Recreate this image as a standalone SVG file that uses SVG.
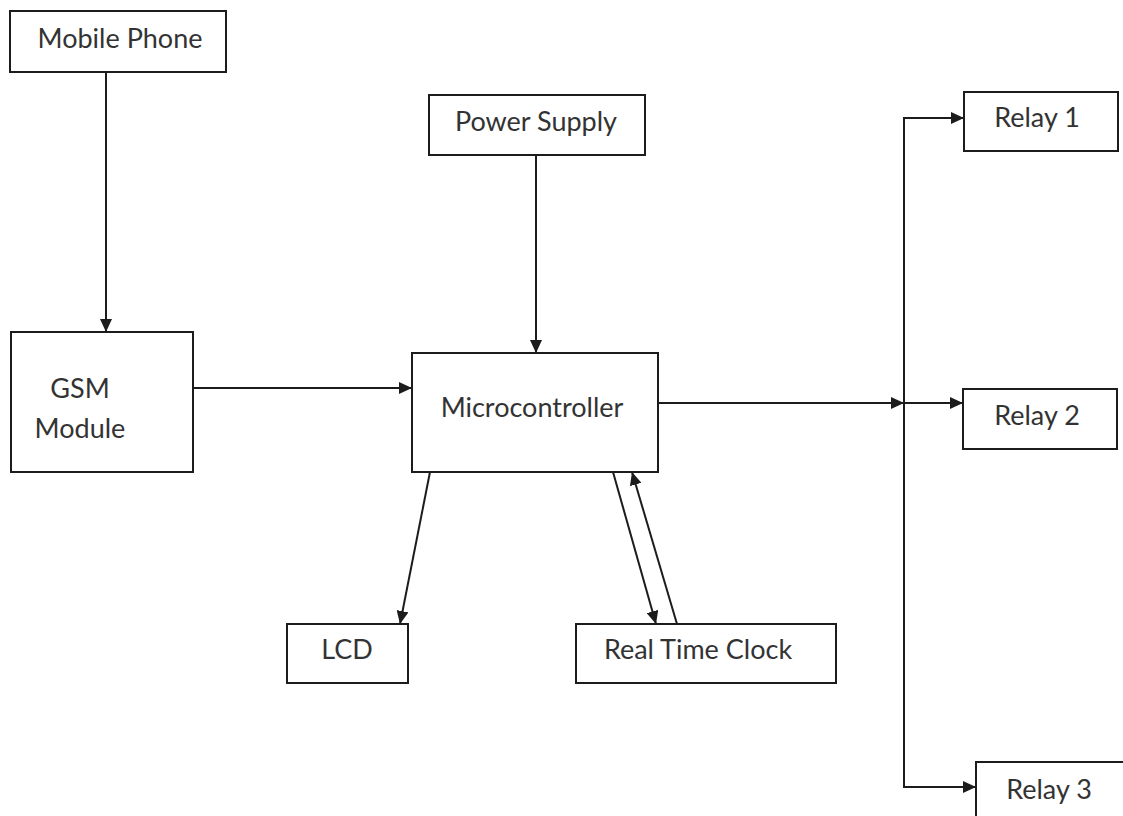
<svg xmlns="http://www.w3.org/2000/svg" width="1123" height="816" viewBox="0 0 1123 816">
  <style>
    .box { fill: #ffffff; stroke: #1c1c1c; stroke-width: 2; }
    .lbl { font-family: "Lato", "Liberation Sans", sans-serif; font-size: 27px; fill: #333333; text-anchor: middle; }
    .wire { fill: none; stroke: #1c1c1c; stroke-width: 2; }
    .arrow { marker-end: url(#head); }
  </style>
  <defs>
    <marker id="head" markerUnits="userSpaceOnUse" markerWidth="14" markerHeight="12" refX="13" refY="6" orient="auto">
      <path d="M0,0 L13,6 L0,12 Z" fill="#1c1c1c"/>
    </marker>
  </defs>
  <rect width="1123" height="816" fill="#ffffff"/>

  <g id="connectors">
    <line class="wire arrow" x1="106" y1="72" x2="106" y2="332"/>
    <line class="wire arrow" x1="536" y1="155" x2="536" y2="353"/>
    <line class="wire arrow" x1="193" y1="388" x2="412" y2="388"/>
    <line class="wire arrow" x1="658" y1="403" x2="904" y2="403"/>
    <line class="wire" x1="904" y1="117" x2="904" y2="788"/>
    <line class="wire arrow" x1="903" y1="118" x2="964" y2="118"/>
    <line class="wire arrow" x1="904" y1="403" x2="963" y2="403"/>
    <line class="wire arrow" x1="903" y1="787" x2="976" y2="787"/>
    <line class="wire arrow" x1="430" y1="472" x2="400" y2="624"/>
    <line class="wire arrow" x1="613" y1="472" x2="656" y2="624"/>
    <line class="wire arrow" x1="677" y1="624" x2="632" y2="472"/>
  </g>

  <g id="mobile-phone">
    <rect class="box" x="10" y="11" width="216" height="61"/>
    <text class="lbl" x="120" y="48">Mobile Phone</text>
  </g>
  <g id="power-supply">
    <rect class="box" x="429" y="95" width="216" height="60"/>
    <text class="lbl" x="536" y="131">Power Supply</text>
  </g>
  <g id="gsm-module">
    <rect class="box" x="11" y="332" width="182" height="140"/>
    <text class="lbl" x="80" y="398">GSM</text>
    <text class="lbl" x="80" y="438">Module</text>
  </g>
  <g id="microcontroller">
    <rect class="box" x="412" y="353" width="246" height="119"/>
    <text class="lbl" x="532" y="417">Microcontroller</text>
  </g>
  <g id="relay-1">
    <rect class="box" x="964" y="92" width="154" height="59"/>
    <text class="lbl" x="1037" y="127">Relay 1</text>
  </g>
  <g id="relay-2">
    <rect class="box" x="963" y="389" width="154" height="60"/>
    <text class="lbl" x="1037" y="425">Relay 2</text>
  </g>
  <g id="relay-3">
    <rect class="box" x="976" y="762" width="160" height="70"/>
    <text class="lbl" x="1049" y="799">Relay 3</text>
  </g>
  <g id="lcd">
    <rect class="box" x="287" y="624" width="121" height="59"/>
    <text class="lbl" x="347" y="659">LCD</text>
  </g>
  <g id="real-time-clock">
    <rect class="box" x="576" y="624" width="260" height="59"/>
    <text class="lbl" x="698" y="659">Real Time Clock</text>
  </g>
</svg>
